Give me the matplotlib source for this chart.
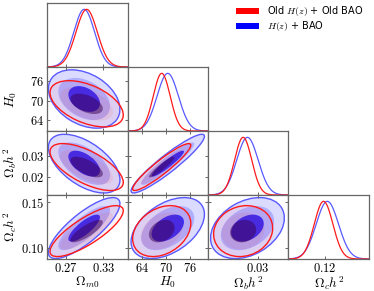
import numpy as np
import matplotlib
matplotlib.use("Agg")
import matplotlib.pyplot as plt
from matplotlib.patches import Ellipse, Patch

plt.rcParams["mathtext.fontset"] = "cm"
plt.rcParams["font.family"] = "DejaVu Sans"

# parameters and axes
param_labels = [r"$\Omega_{m0}$", r"$H_0$", r"$\Omega_b h^2$", r"$\Omega_c h^2$"]
param_ranges = [(0.239, 0.369), (60.5, 80.5), (0.0115, 0.0415), (0.088, 0.158)]
xtick_vals = [[0.27, 0.33], [64, 70, 76], [0.03], [0.12]]
xtick_text = [["0.27", "0.33"], ["64", "70", "76"], ["0.03"], ["0.12"]]
ytick_vals = [[], [64, 70, 76], [0.02, 0.03], [0.10, 0.15]]
ytick_text = [[], ["64", "70", "76"], ["0.02", "0.03"], ["0.10", "0.15"]]

# H(z) + BAO (blue)
blue_mean = [0.299, 70.5, 0.0262, 0.1218]
blue_sigma = [0.0168, 2.65, 0.0040, 0.0097]
# correlations for pairs (0,1) (0,2) (0,3) (1,2) (1,3) (2,3)
blue_rho = [-0.35, -0.55, 0.80, 0.93, 0.45, 0.33]

# Old H(z) + Old BAO (red)
red_mean = [0.303, 69.0, 0.0246, 0.1185]
red_sigma = [0.0172, 2.1, 0.0032, 0.0081]
red_rho = [-0.48, -0.65, 0.80, 0.93, 0.30, 0.12]

pairs = [(0, 1), (0, 2), (0, 3), (1, 2), (1, 3), (2, 3)]
levels = [3.44, 2.49, 1.52]

chains = [
    dict(mean=blue_mean, sigma=blue_sigma, rho=blue_rho,
         fill=["blue", "blue", "blue"], alpha=[0.14, 0.2, 0.72],
         line=(0.35, 0.35, 1.0)),
    dict(mean=red_mean, sigma=red_sigma, rho=red_rho,
         fill=["red", "red", "#3c0050"], alpha=[0.05, 0.07, 0.5],
         line=(1.0, 0.1, 0.1)),
]


def ellipse_args(c, j, i, p):
    sx, sy = c["sigma"][j], c["sigma"][i]
    r = c["rho"][p]
    cov = np.array([[sx * sx, r * sx * sy], [r * sx * sy, sy * sy]])
    vals, vecs = np.linalg.eigh(cov)
    ang = np.degrees(np.arctan2(vecs[1, 1], vecs[0, 1]))
    return (c["mean"][j], c["mean"][i]), np.sqrt(vals[1]), np.sqrt(vals[0]), ang


fig, axes = plt.subplots(4, 4, figsize=(3.74, 2.91), dpi=100)
fig.subplots_adjust(left=0.1257, right=0.9866, bottom=0.11, top=0.9897,
                    wspace=0, hspace=0)

for i in range(4):
    for j in range(4):
        ax = axes[i, j]
        if j > i:
            ax.axis("off")
            continue
        for s in ax.spines.values():
            s.set_color("#666666")
            s.set_linewidth(0.9)
        ax.tick_params(direction="in", length=2.5, width=0.7, color="#666666",
                       top=True, right=True, labelsize=9, pad=2)
        ax.set_xlim(param_ranges[j])
        ax.set_xticks(xtick_vals[j])
        if i == 3:
            ax.set_xticklabels(["$%s$" % t for t in xtick_text[j]])
            ax.set_xlabel(param_labels[j], fontsize=9.5, labelpad=0)
        else:
            ax.set_xticklabels([])

        if i == j:
            # 1D marginals
            x = np.linspace(*param_ranges[j], 300)
            for c in chains:
                m, s = c["mean"][j], c["sigma"][j]
                ax.plot(x, np.exp(-0.5 * ((x - m) / s) ** 2), color=c["line"], lw=0.9)
            ax.set_ylim(0, 1.11)
            ax.set_yticks([])
            ax.tick_params(top=False, right=False)
            continue

        ax.set_ylim(param_ranges[i])
        ax.set_yticks(ytick_vals[i])
        if j == 0:
            ax.set_yticklabels(["$%s$" % t for t in ytick_text[i]])
            ax.set_ylabel(param_labels[i], fontsize=9.5, labelpad=1)
        else:
            ax.set_yticklabels([])

        p = pairs.index((j, i))
        for c in chains:
            centre, a, b, ang = ellipse_args(c, j, i, p)
            for k, fc, al in zip(levels, c["fill"], c["alpha"]):
                ax.add_patch(Ellipse(centre, 2 * k * a, 2 * k * b, angle=ang,
                                     facecolor=fc, alpha=al, edgecolor="none"))
        for c in chains:
            centre, a, b, ang = ellipse_args(c, j, i, p)
            k = levels[0]
            ax.add_patch(Ellipse(centre, 2 * k * a, 2 * k * b, angle=ang,
                                 facecolor="none", edgecolor=c["line"], lw=1.0))

fig.align_ylabels(axes[:, 0])

handles = [Patch(facecolor="red", edgecolor="none"), Patch(facecolor="blue", edgecolor="none")]
fig.legend(handles, [r"Old $H(z)$ + Old BAO", r"$H(z)$ + BAO"],
           loc="upper right", bbox_to_anchor=(0.995, 1.015), frameon=False,
           fontsize=7, handlelength=2.4, handleheight=0.6, handletextpad=0.8,
           labelspacing=0.1)

fig.savefig("out.png", dpi=100)
